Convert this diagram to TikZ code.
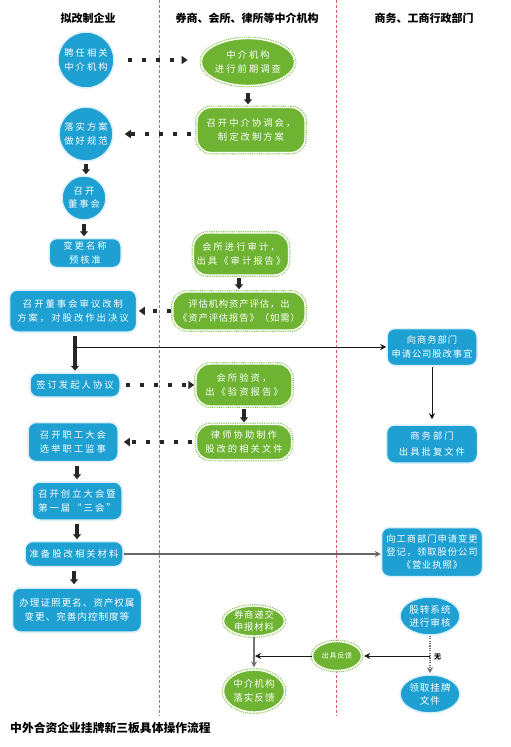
\documentclass[tikz,border=0pt]{standalone}
\usepackage{fontspec}
\newfontfamily\cjk[LetterSpace=22]{Noto Sans CJK SC}
\newfontfamily\cjkn[LetterSpace=10]{Noto Sans CJK SC}
\newfontfamily\cjkh{Noto Sans CJK SC}
\usetikzlibrary{shapes.geometric,arrows.meta}
\definecolor{bfill}{HTML}{1EA0D2}
\definecolor{bring}{HTML}{D8F0FA}
\definecolor{gfill}{HTML}{6EB432}
\definecolor{gring}{HTML}{8CC85A}
\definecolor{lane}{HTML}{DC5A64}
\tikzset{
  txt/.style={text=white, align=center, inner sep=0pt, font=\cjk\fontsize{9.3}{13.5}\selectfont},
  bnode/.style={txt, fill=bfill, draw=bring, line width=1.5pt},
  bcirc/.style={bnode, circle},
  brect/.style={bnode, rectangle, rounded corners=8pt},
  bell/.style={bnode, ellipse},
  gnode/.style={txt, fill=gfill, draw=white, line width=1.4pt,
     preaction={draw=gring, line width=3.8pt, dash pattern=on 0.9pt off 0.9pt}},
  gell/.style={gnode, ellipse},
  grect/.style={gnode, rectangle, rounded corners=14pt},
  blk/.style={line width=3.2pt, draw=black!85, -{Triangle[width=8pt,length=5pt]}},
  dotarr/.style={line width=4pt, draw=black!85, dash pattern=on 4pt off 10pt,
     -{Triangle[width=8pt,length=6pt]}},
  thin/.style={line width=0.9pt, draw=black!90, -{Stealth[width=6pt,length=6pt]}},
  hdr/.style={font=\cjkh\bfseries\fontsize{11}{13}\selectfont, inner sep=0pt},
  lanes/.style={draw=lane, line width=0.6pt, dash pattern=on 3pt off 2pt}
}
\begin{document}
\begin{tikzpicture}[x=1pt,y=-1pt]
\useasboundingbox[fill=white] (0,0) rectangle (511,747);
% lanes
\coordinate (l1t) at (159,0); \coordinate (l1b) at (159,716);
\coordinate (l2t) at (336,0); \coordinate (l2b) at (336,716);
\draw[lanes] (l1t) -- (l1b);
\draw[lanes] (l2t) -- (l2b);
% headers
\node[hdr] (h1) at (88,18) {拟改制企业};
\node[hdr] (h2) at (247,18) {券商、会所、律所等中介机构};
\node[hdr] (h3) at (424,18) {商务、工商行政部门};
% left column
\node[bcirc, minimum size=56pt] (c1) at (86,60) {聘任相关\\中介机构};
\node[bcirc, minimum size=54pt] (c2) at (86,134) {落实方案\\做好规范};
\node[bcirc, minimum size=44pt] (c3) at (84,198) {召开\\董事会};
\node[brect, minimum width=72pt, minimum height=29pt] (r4) at (85,253) {变更名称\\预核准};
\node[brect, minimum width=127pt, minimum height=42pt] (r5) at (73,311) {召开董事会审议改制\\方案，对股改作出决议};
\node[brect, minimum width=90pt, minimum height=24pt] (r6) at (75,385) {签订发起人协议};
\node[brect, minimum width=90pt, minimum height=39pt] (r7) at (73,442) {召开职工大会\\选举职工监事};
\node[brect, minimum width=90pt, minimum height=38pt] (r8) at (77,501) {召开创立大会暨\\第一届“三会”};
\node[brect, minimum width=98pt, minimum height=25pt] (r9) at (74,554) {准备股改相关材料};
\node[brect, minimum width=129pt, minimum height=44pt, font=\cjkn\fontsize{9.6}{13.5}\selectfont] (r10) at (77,610) {办理证照更名、资产权属\\变更、完善内控制度等};
% middle column
\node[gell, minimum width=77pt, minimum height=47pt] (A) at (248,62) {中介机构\\进行前期调查};
\node[grect, minimum width=108pt, minimum height=45pt] (B) at (251,130) {召开中介协调会，\\制定改制方案};
\node[grect, minimum width=95pt, minimum height=42pt] (C) at (241,254) {会所进行审计，\\出具《审计报告》};
\node[grect, minimum width=132pt, minimum height=38pt, font=\cjkn\fontsize{9.3}{13.5}\selectfont] (D) at (239,311) {评估机构资产评估，出\\《资产评估报告》（如需）};
\node[grect, minimum width=96pt, minimum height=42pt] (E) at (244,385) {会所验资，\\出《验资报告》};
\node[grect, minimum width=95pt, minimum height=35pt] (F) at (244,442) {律师协助制作\\股改的相关文件};
\node[gell, minimum width=61pt, minimum height=30pt, font=\cjkn\fontsize{9.3}{12}\selectfont] (G) at (254,621) {券商递交\\申报材料};
\node[gell, minimum width=61pt, minimum height=42pt, font=\cjkn\fontsize{9.6}{14}\selectfont] (H) at (254,691) {中介机构\\落实反馈};
\node[gell, minimum width=49pt, minimum height=29pt, font=\cjkn\fontsize{7}{9}\selectfont] (I) at (337,656) {出具反馈};
% right column
\node[brect, minimum width=90pt, minimum height=37pt, font=\cjkn\fontsize{9.3}{13.5}\selectfont] (R1) at (432,347) {向商务部门\\申请公司股改事宜};
\node[brect, minimum width=91pt, minimum height=38pt, font=\cjk\fontsize{9.3}{16}\selectfont] (R2) at (432,444) {商务部门\\出具批复文件};
\node[brect, minimum width=101pt, minimum height=49pt, font=\cjkn\fontsize{9.3}{12.8}\selectfont] (R3) at (432,552) {向工商部门申请变更\\登记，领取股份公司\\《营业执照》};
\node[bell, minimum width=60pt, minimum height=38pt, font=\cjkn\fontsize{9.6}{13}\selectfont] (R4) at (430,616) {股转系统\\进行审核};
\node[bell, minimum width=60pt, minimum height=38pt, font=\cjkn\fontsize{9.6}{13}\selectfont] (R5) at (430,694) {领取挂牌\\文件};
% caption
\node[font=\cjkh\bfseries\fontsize{11.8}{13}\selectfont, anchor=west, inner sep=0pt] (cap) at (10,728) {中外合资企业挂牌新三板具体操作流程};
% block arrows
\draw[blk, shorten <=6.5pt, shorten >=2.5pt] (A.south) -- (A.south |- B.north);
\draw[blk, shorten <=2pt, shorten >=1pt] (c2.south) -- (c2.south |- c3.north);
\draw[blk, shorten <=3pt, shorten >=1.5pt] (c3.south) -- (c3.south |- r4.north);
\draw[blk, shorten <=2pt, shorten >=2pt] (C.south -| D.north) -- (D.north);
\draw[blk, shorten <=3pt, shorten >=1.5pt] (r6.north |- r5.south) -- (r6.north);
\draw[blk, shorten <=2pt, shorten >=1.5pt] (E.south) -- (E.south |- F.north);
\draw[blk, shorten <=4pt, shorten >=2pt] (r8.north |- r7.south) -- (r8.north);
\draw[blk, shorten <=3pt, shorten >=1.5pt] (r8.south) -- (r8.south |- r9.north);
\draw[blk, shorten <=3.5pt, shorten >=3pt] (r9.south) -- (r9.south |- r10.north);
% dotted arrows
\draw[dotarr, shorten <=13pt, shorten >=13pt] (c1.east) -- (c1.east -| A.west);
\draw[dotarr, shorten <=5pt, shorten >=11pt] (B.west |- c2.east) -- (c2.east);
\draw[dotarr, shorten <=1pt, shorten >=1.5pt] (D.west) -- (D.west -| r5.east);
\draw[dotarr, shorten <=5pt, shorten >=1pt] (r6.east) -- (r6.east -| E.west);
\draw[dotarr, shorten <=4pt, shorten >=5pt] (F.west) -- (F.west -| r7.east);
% thin connectors
\draw[thin] (r6.north |- R1.west) -- (R1.west);
\draw[thin, shorten <=0.5pt, shorten >=5pt] (R1.south) -- (R2.north);
\draw[thin, draw=black!60, line width=1.3pt] (r9.east) -- (r9.east -| R3.west);
\draw[thin, draw=black!55, line width=1.6pt, shorten >=2pt] (G.south) -- (H.north);
\draw[thin, draw=black!55, line width=1.2pt, dash pattern=on 1.2pt off 1.2pt, shorten >=1pt] (R4.south) -- (R5.north);
\coordinate (j1) at (R4.south |- I.east);
\coordinate (j2) at (G.south |- I.west);
\draw[thin, shorten >=2pt] (j1) -- (I.east);
\draw[thin, shorten >=1pt] (I.west) -- (j2);
\node[font=\cjkh\bfseries\fontsize{7}{8}\selectfont, inner sep=0pt, anchor=west] (wu) at (434,657) {无};
\end{tikzpicture}
\end{document}
